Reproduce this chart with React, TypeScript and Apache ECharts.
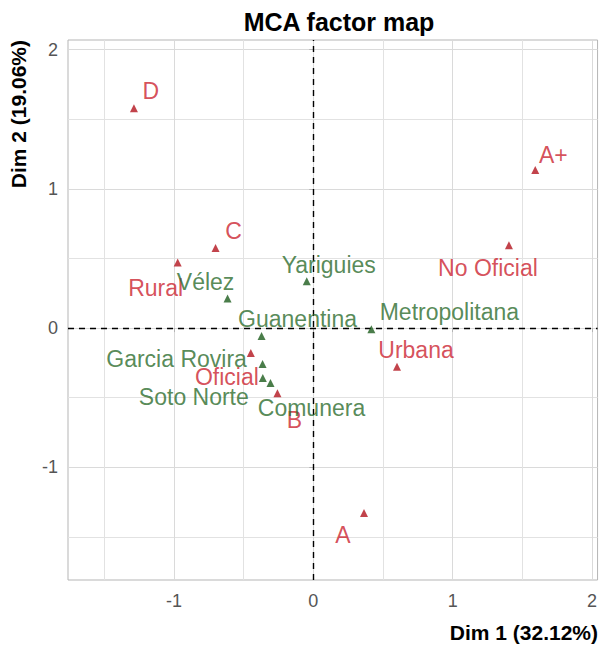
import React, { useEffect, useRef } from "react";
import * as echarts from "echarts";

// Active categories (red)
const activeNames = ["D", "A+", "C", "Rural", "No Oficial", "Urbana", "Oficial", "B", "A"];
const activeDim1 = [-1.287, 1.593, -0.701, -0.973, 1.404, 0.601, -0.448, -0.257, 0.364];
const activeDim2 = [1.579, 1.136, 0.576, 0.471, 0.595, -0.277, -0.179, -0.468, -1.328];

// Supplementary categories (green)
const supNames = ["Vélez", "Yariguies", "Metropolitana", "Guanentina", "Garcia Rovira", "Soto Norte", "Comunera"];
const supDim1 = [-0.615, -0.047, 0.417, -0.371, -0.364, -0.362, -0.307];
const supDim2 = [0.213, 0.337, -0.009, -0.057, -0.258, -0.358, -0.394];

const xTicks = [-1, 0, 1, 2];
const yTicks = [-1, 0, 1, 2];

const titleText = "MCA factor map";
const xTitle = "Dim 1 (32.12%)";
const yTitle = "Dim 2 (19.06%)";

// label placement (repelled labels), pixel offsets from the point
const labelOffsets: Record<string, [number, number]> = {
  D: [17, -17],
  "A+": [18, -15],
  C: [18, -17],
  Rural: [-22, 25],
  "No Oficial": [-21, 23],
  Urbana: [19, -17],
  Oficial: [-24, 24],
  B: [17, 27],
  A: [-21, 22],
  "Vélez": [-22, -16],
  Yariguies: [22, -16],
  Metropolitana: [78, -17],
  Guanentina: [36, -17],
  "Garcia Rovira": [-86, -5],
  "Soto Norte": [-69, 19],
  Comunera: [41, 25],
};

const RED_PT = "#b3141e";
const RED_TX = "#cb2430";
const GREEN_PT = "#1d5c1d";
const GREEN_TX = "#2c6c2d";

function buildData(names: string[], d1: number[], d2: number[]) {
  return names.map((n, i) => ({
    name: n,
    value: [d1[i], d2[i]],
    label: { offset: labelOffsets[n] || [0, -15] },
  }));
}

export default function App() {
  const ref = useRef<HTMLDivElement>(null);
  useEffect(() => {
    if (!ref.current) return;
    const chart = echarts.init(ref.current, undefined, { renderer: "svg" });
    const font = "'Liberation Sans', Arial, sans-serif";
    const fmt = (v: number) => (Number.isInteger(v) ? String(v) : "");
    const labelCommon = {
      show: true,
      position: "inside",
      formatter: "{b}",
      fontSize: 23,
      fontFamily: font,
      align: "center",
      verticalAlign: "middle",
    };
    chart.setOption({
      animation: false,
      backgroundColor: "#ffffff",
      title: {
        text: titleText,
        left: 334,
        top: 4,
        textAlign: "center",
        textStyle: { fontSize: 25, fontWeight: "bold", fontFamily: font, color: "#000" },
      },
      grid: {
        left: 68,
        right: 2,
        top: 40,
        bottom: 65,
        show: true,
        borderColor: "#b5b5b5",
        borderWidth: 1,
        backgroundColor: "transparent",
      },
      xAxis: {
        type: "value",
        min: -1.76,
        max: 2.04,
        splitNumber: 4,
        axisLine: { show: false },
        axisTick: { show: true, length: 4, lineStyle: { color: "#b5b5b5" }, customValues: xTicks },
        axisLabel: {
          customValues: xTicks,
          formatter: fmt,
          color: "#555",
          fontSize: 18,
          fontFamily: font,
          margin: 12,
        },
        splitLine: { show: true, lineStyle: { color: "#dadada", width: 1 } },
        minorTick: { show: false, splitNumber: 2 },
        minorSplitLine: { show: true, lineStyle: { color: "#e2e2e2", width: 1 } },
      },
      yAxis: {
        type: "value",
        min: -1.81,
        max: 2.07,
        splitNumber: 4,
        axisLine: { show: false },
        axisTick: { show: true, length: 4, lineStyle: { color: "#b5b5b5" }, customValues: yTicks },
        axisLabel: {
          customValues: yTicks,
          formatter: fmt,
          color: "#555",
          fontSize: 18,
          fontFamily: font,
          margin: 10,
        },
        splitLine: { show: true, lineStyle: { color: "#dadada", width: 1 } },
        minorTick: { show: false, splitNumber: 2 },
        minorSplitLine: { show: true, lineStyle: { color: "#e2e2e2", width: 1 } },
      },
      graphic: [
        {
          type: "text",
          x: 598,
          y: 632,
          style: {
            text: xTitle,
            align: "right",
            verticalAlign: "middle",
            font: `bold 21px ${font}`,
            fill: "#000",
          },
        },
        {
          type: "text",
          x: 18,
          y: 40,
          rotation: Math.PI / 2,
          style: {
            text: yTitle,
            align: "right",
            verticalAlign: "middle",
            font: `bold 21px ${font}`,
            fill: "#000",
          },
        },
      ],
      series: [
        {
          type: "scatter",
          name: "active",
          symbol: "triangle",
          symbolSize: 8,
          itemStyle: { color: RED_PT },
          label: { ...labelCommon, color: RED_TX },
          data: buildData(activeNames, activeDim1, activeDim2),
          markLine: {
            silent: true,
            symbol: ["none", "none"],
            label: { show: false },
            lineStyle: { color: "#000", type: [6, 5], width: 1.4 },
            data: [{ xAxis: 0 }, { yAxis: 0 }],
            z: 1,
          },
          z: 3,
        },
        {
          type: "scatter",
          name: "sup",
          symbol: "triangle",
          symbolSize: 8,
          itemStyle: { color: GREEN_PT },
          label: { ...labelCommon, color: GREEN_TX },
          data: buildData(supNames, supDim1, supDim2),
          z: 3,
        },
      ],
    });
    return () => chart.dispose();
  }, []);
  return (
    <div
      ref={ref}
      style={{ position: "absolute", left: 0, top: 0, width: 600, height: 645 }}
    />
  );
}
